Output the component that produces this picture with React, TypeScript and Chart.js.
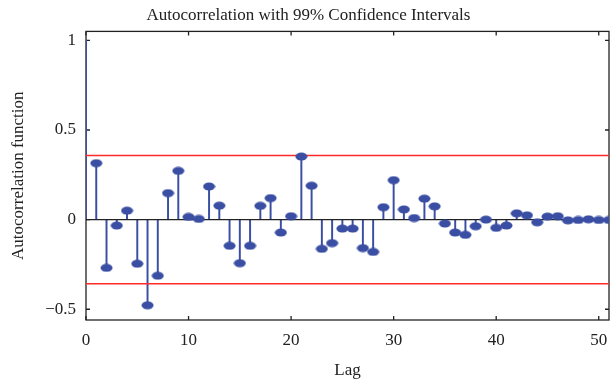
import React, { useEffect, useRef } from 'react';
import { Chart, registerables } from 'chart.js';

Chart.register(...registerables);

const lags = [
  0, 1, 2, 3, 4, 5, 6, 7, 8, 9, 10, 11, 12, 13, 14, 15, 16, 17, 18, 19, 20, 21, 22, 23, 24, 25,
  26, 27, 28, 29, 30, 31, 32, 33, 34, 35, 36, 37, 38, 39, 40, 41, 42, 43, 44, 45, 46, 47, 48, 49, 50, 51,
];
const acf = [
  1, 0.315, -0.269, -0.033, 0.05, -0.246, -0.478, -0.313, 0.148, 0.272, 0.015, 0.004, 0.185,
  0.078, -0.146, -0.243, -0.146, 0.077, 0.12, -0.072, 0.019, 0.352, 0.189, -0.163, -0.131,
  -0.05, -0.05, -0.159, -0.18, 0.069, 0.22, 0.057, 0.009, 0.117, 0.074, -0.022, -0.072,
  -0.085, -0.037, 0.0, -0.046, -0.033, 0.035, 0.024, -0.015, 0.017, 0.019, -0.004, -0.002,
  0.002, -0.002, -0.002,
];
const confBound = 0.358;
const xTicks = [0, 10, 20, 30, 40, 50];
const yTicks = [-0.5, 0, 0.5, 1];
const titleText = 'Autocorrelation with 99% Confidence Intervals';
const xTitle = 'Lag';
const yTitle = 'Autocorrelation function';

const FONT = "'Liberation Serif', 'Times New Roman', serif";
const BLUE = '#3a4fa3';
const INK = '#222222';

function makeMarker(): HTMLCanvasElement {
  const c = document.createElement('canvas');
  c.width = 13;
  c.height = 9;
  const g = c.getContext('2d')!;
  g.fillStyle = BLUE;
  g.beginPath();
  g.ellipse(6.5, 4.5, 6, 4, 0, 0, Math.PI * 2);
  g.fill();
  return c;
}

const framePlugin = {
  id: 'frameTicks',
  beforeDatasetsDraw(chart: any) {
    const { ctx, chartArea, scales } = chart;
    const { left, right, top, bottom } = chartArea;
    ctx.save();
    ctx.strokeStyle = INK;
    ctx.lineWidth = 1.3;
    ctx.strokeRect(left, top, right - left, bottom - top);
    const len = 4;
    ctx.beginPath();
    xTicks.forEach((v) => {
      const px = scales.x.getPixelForValue(v);
      ctx.moveTo(px, bottom);
      ctx.lineTo(px, bottom - len);
      ctx.moveTo(px, top);
      ctx.lineTo(px, top + len);
    });
    yTicks.forEach((v) => {
      const py = scales.y.getPixelForValue(v);
      ctx.moveTo(left, py);
      ctx.lineTo(left + len, py);
      ctx.moveTo(right, py);
      ctx.lineTo(right - len, py);
    });
    ctx.stroke();
    ctx.restore();
  },
};

export default function App() {
  const ref = useRef<HTMLCanvasElement>(null);

  useEffect(() => {
    if (!ref.current) return;
    const marker = makeMarker();
    const points = lags.map((l, i) => ({ x: l, y: acf[i] }));
    const noClip = { left: 0, top: 0, right: 0, bottom: 0 };
    const chart = new Chart(ref.current, {
      type: 'scatter',
      data: {
        datasets: [
          {
            type: 'scatter',
            data: points,
            pointStyle: marker as any,
            pointRadius: (c: any) => (c.dataIndex === 0 ? 0 : 5),
            showLine: false,
            clip: noClip as any,
            order: 0,
          } as any,
          {
            type: 'line',
            data: [
              { x: 0, y: confBound },
              { x: 51, y: confBound },
            ],
            borderColor: '#ff2a2a',
            borderWidth: 1.5,
            pointRadius: 0,
            order: 1,
          },
          {
            type: 'line',
            data: [
              { x: 0, y: -confBound },
              { x: 51, y: -confBound },
            ],
            borderColor: '#ff2a2a',
            borderWidth: 1.5,
            pointRadius: 0,
            order: 1,
          },
          {
            type: 'line',
            data: [
              { x: 0, y: 0 },
              { x: 51, y: 0 },
            ],
            borderColor: INK,
            borderWidth: 1.3,
            pointRadius: 0,
            order: 2,
          },
          {
            type: 'bar',
            data: points,
            backgroundColor: BLUE,
            borderWidth: 0,
            barThickness: 1.3,
            order: 3,
          } as any,
        ],
      },
      options: {
        animation: false,
        responsive: false,
        events: [],
        layout: { autoPadding: false, padding: { left: 8, right: 1, top: 0, bottom: 0 } },
        plugins: {
          legend: { display: false },
          tooltip: { enabled: false },
          title: {
            display: true,
            text: titleText,
            color: INK,
            font: { family: FONT, size: 17, weight: 'normal' },
            padding: { top: 5, bottom: 6 },
          },
        },
        scales: {
          x: {
            type: 'linear',
            min: 0,
            max: 51,
            offset: false,
            grid: { display: false, drawTicks: true, tickLength: 10, offset: false },
            border: { display: false },
            afterBuildTicks: (s: any) => {
              s.ticks = xTicks.map((v) => ({ value: v }));
            },
            afterFit: (s: any) => {
              s.height = 65;
              s.paddingLeft = 0;
              s.paddingRight = 0;
            },
            ticks: {
              color: INK,
              font: { family: FONT, size: 17 },
              padding: 0,
              autoSkip: false,
              maxRotation: 0,
              callback: (v: any) => String(v),
            },
            title: {
              display: true,
              text: xTitle,
              color: INK,
              font: { family: FONT, size: 17 },
              padding: { top: 0, bottom: 4 },
            },
          },
          y: {
            type: 'linear',
            min: -0.56,
            max: 1.05,
            grid: { display: false, drawTicks: true, tickLength: 10 },
            border: { display: false },
            afterBuildTicks: (s: any) => {
              s.ticks = yTicks.map((v) => ({ value: v }));
            },
            afterFit: (s: any) => {
              s.width = 78;
              s.paddingTop = 0;
              s.paddingBottom = 0;
            },
            ticks: {
              color: INK,
              font: { family: FONT, size: 17 },
              padding: 0,
              autoSkip: false,
              callback: (v: any) => (Number(v) < 0 ? '\u2212' + String(Math.abs(Number(v))) : String(v)),
            },
            title: {
              display: true,
              text: yTitle,
              color: INK,
              font: { family: FONT, size: 17 },
              padding: { top: 0, bottom: 0 },
            },
          },
        },
      },
      plugins: [framePlugin],
    } as any);
    return () => chart.destroy();
  }, []);

  return (
    <div style={{ position: 'absolute', left: 0, top: 0, width: 610, height: 385 }}>
      <canvas ref={ref} width={610} height={385} />
    </div>
  );
}
